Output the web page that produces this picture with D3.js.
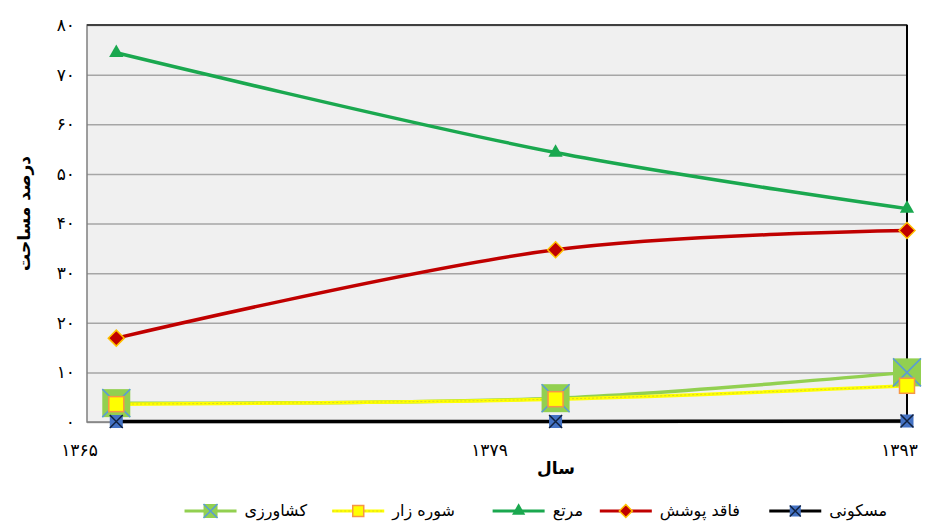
<!DOCTYPE html>
<html>
<head>
<meta charset="utf-8">
<script src="https://cdn.jsdelivr.net/npm/d3@7"></script>
<style>
  body { margin: 0; background: #fff; overflow: hidden; }
  svg text { font-family: "DejaVu Sans", sans-serif; }
</style>
</head>
<body>
<div id="chart"></div>
<script>
// Land use share over time (percent of area)

const years = [1366, 1381, 1393];
const xTicks = [1365, 1379, 1393];
const yTicks = [0, 10, 20, 30, 40, 50, 60, 70, 80];

const agriculture = [3.8, 4.8, 10.0];   // کشاورزی
const saline = [3.6, 4.6, 7.3];         // شوره زار
const pasture = [74.4, 54.3, 43.0];     // مرتع
const bare = [16.9, 34.7, 38.6];        // فاقد پوشش
const residential = [0.1, 0.1, 0.2];    // مسکونی

const seriesNames = ["کشاورزی", "شوره زار", "مرتع", "فاقد پوشش", "مسکونی"];

const faDigits = n => String(n).replace(/\d/g, c => "۰۱۲۳۴۵۶۷۸۹"[c]);

const width = 927;
const height = 525;
const margin = { top: 25, right: 20, bottom: 103, left: 87 };
const innerWidth = width - margin.left - margin.right;
const innerHeight = height - margin.top - margin.bottom;

const svg = d3.select("#chart").append("svg")
    .attr("width", width)
    .attr("height", height)
    .style("display", "block");

const g = svg.append("g")
    .attr("transform", `translate(${margin.left},${margin.top})`);

const xScale = d3.scaleLinear().domain([1365, 1393]).range([0, innerWidth]);
const yScale = d3.scaleLinear().domain([0, 80]).range([innerHeight, 0]);

// plot background
g.append("rect")
    .attr("width", innerWidth)
    .attr("height", innerHeight)
    .attr("fill", "#f0f0f0");

// gridlines
g.append("g")
    .call(d3.axisLeft(yScale).tickValues(yTicks).tickSize(-innerWidth))
    .call(a => a.select(".domain").remove())
    .call(a => a.selectAll(".tick text").remove())
    .call(a => a.selectAll(".tick line").attr("stroke", "#a6a6a6").attr("stroke-width", 1.5));

// border
g.append("rect")
    .attr("width", innerWidth)
    .attr("height", innerHeight)
    .attr("fill", "none")
    .attr("stroke", "#7f7f7f")
    .attr("stroke-width", 1.5);
g.append("line")
    .attr("x1", 0).attr("x2", innerWidth)
    .attr("y1", 0).attr("y2", 0)
    .attr("stroke", "#404040").attr("stroke-width", 2);
g.append("line")
    .attr("x1", innerWidth).attr("x2", innerWidth)
    .attr("y1", 0).attr("y2", innerHeight)
    .attr("stroke", "#000").attr("stroke-width", 2);

// y tick labels
g.append("g")
    .call(d3.axisLeft(yScale).tickValues(yTicks).tickSize(0).tickPadding(12).tickFormat(faDigits))
    .call(a => a.select(".domain").remove())
    .call(a => a.selectAll("text").attr("font-size", 17).attr("fill", "#000"));

// x tick labels
g.append("g")
    .attr("transform", `translate(0,${innerHeight})`)
    .call(d3.axisBottom(xScale).tickValues(xTicks).tickSize(0).tickPadding(22).tickFormat(faDigits))
    .call(a => a.select(".domain").remove())
    .call(a => a.selectAll("text").attr("font-size", 17).attr("fill", "#000"))
    .call(a => a.selectAll(".tick text")
        .attr("dx", (d, i) => i === 0 ? -8 : i === 1 ? -8 : -8));

// axis titles
svg.append("text")
    .attr("transform", `translate(30,${margin.top + innerHeight / 2 - 10}) rotate(-90)`)
    .attr("text-anchor", "middle")
    .attr("font-size", 17)
    .attr("font-weight", "bold")
    .text("درصد مساحت");

svg.append("text")
    .attr("x", 556)
    .attr("y", 474)
    .attr("text-anchor", "middle")
    .attr("font-size", 17)
    .attr("font-weight", "bold")
    .text("سال");

const curve = d3.curveCatmullRom.alpha(0.5);
const line = d3.line()
    .x((d, i) => xScale(years[i]))
    .y(d => yScale(d))
    .curve(curve);

// marker painters
function markerAgri(sel, s) {
    sel.append("rect").attr("x", -s / 2).attr("y", -s / 2).attr("width", s).attr("height", s)
        .attr("fill", "#92d050");
    sel.append("path").attr("d", `M${-s / 2},${-s / 2}L${s / 2},${s / 2}M${s / 2},${-s / 2}L${-s / 2},${s / 2}`)
        .attr("stroke", "#5b9bd5").attr("stroke-width", 1.5);
}
function markerSaline(sel, s) {
    sel.append("rect").attr("x", -s / 2).attr("y", -s / 2).attr("width", s).attr("height", s)
        .attr("fill", "#ffff00").attr("stroke", "#f79646").attr("stroke-width", 1.5);
}
function markerPasture(sel, s) {
    sel.append("path").attr("d", d3.symbol(d3.symbolTriangle, s * s * 0.45)())
        .attr("fill", "#1aa84f");
}
function markerBare(sel, s) {
    sel.append("path").attr("d", `M0,${-s / 2}L${s / 2},0L0,${s / 2}L${-s / 2},0Z`)
        .attr("fill", "#c00000").attr("stroke", "#ffc000").attr("stroke-width", 1.5);
}
function markerRes(sel, s) {
    sel.append("rect").attr("x", -s / 2).attr("y", -s / 2).attr("width", s).attr("height", s)
        .attr("fill", "#4472c4");
    sel.append("path").attr("d", `M${-s / 2},${-s / 2}L${s / 2},${s / 2}M${s / 2},${-s / 2}L${-s / 2},${s / 2}`)
        .attr("stroke", "#10213f").attr("stroke-width", 1.5);
}

const series = [
    { name: seriesNames[0], values: agriculture, color: "#92d050", width: 3.5, marker: markerAgri, size: 28, legendSize: 14 },
    { name: seriesNames[1], values: saline, color: "#ffff00", width: 3.5, dash: true, marker: markerSaline, size: 15, legendSize: 11 },
    { name: seriesNames[2], values: pasture, color: "#1aa84f", width: 3.5, marker: markerPasture, size: 14, legendSize: 13 },
    { name: seriesNames[3], values: bare, color: "#c00000", width: 3.5, marker: markerBare, size: 16, legendSize: 13 },
    { name: seriesNames[4], values: residential, color: "#000000", width: 3.5, marker: markerRes, size: 13, legendSize: 11 }
];

// draw lines (residential last so it sits on the baseline)
const drawOrder = [2, 3, 0, 1, 4];
drawOrder.forEach(k => {
    const s = series[k];
    g.append("path")
        .datum(s.values)
        .attr("fill", "none")
        .attr("stroke", s.color)
        .attr("stroke-width", s.width)
        .attr("d", line);
    if (s.dash) {
        g.append("path")
            .datum(s.values)
            .attr("fill", "none")
            .attr("stroke", "#d8d820")
            .attr("stroke-width", 1)
            .attr("stroke-dasharray", "2,2")
            .attr("d", line);
    }
});

drawOrder.forEach(k => {
    const s = series[k];
    s.values.forEach((v, i) => {
        const m = g.append("g")
            .attr("transform", `translate(${xScale(years[i])},${yScale(v)})`);
        s.marker(m, s.size);
    });
});

// legend (right to left)
const legendX = [887, 740, 583, 455, 307];
const legendY = 511;
const legendOrder = [4, 3, 2, 1, 0];
legendOrder.forEach((k, j) => {
    const s = series[k];
    const lg = svg.append("g");
    const tx = legendX[j];
    const text = lg.append("text")
        .attr("x", tx)
        .attr("y", legendY + 5)
        .attr("text-anchor", "end")
        .attr("font-size", 16)
        .text(s.name);
    const tw = text.node().getComputedTextLength();
    const x1 = tx - tw - 60;
    const x2 = tx - tw - 8;
    lg.append("line")
        .attr("x1", x1).attr("x2", x2)
        .attr("y1", legendY).attr("y2", legendY)
        .attr("stroke", s.color).attr("stroke-width", 3);
    if (s.dash) {
        lg.append("line")
            .attr("x1", x1).attr("x2", x2)
            .attr("y1", legendY).attr("y2", legendY)
            .attr("stroke", "#d8d820").attr("stroke-width", 1).attr("stroke-dasharray", "2,2");
    }
    const m = lg.append("g").attr("transform", `translate(${(x1 + x2) / 2},${legendY})`);
    s.marker(m, s.legendSize);
});
</script>
</body>
</html>
